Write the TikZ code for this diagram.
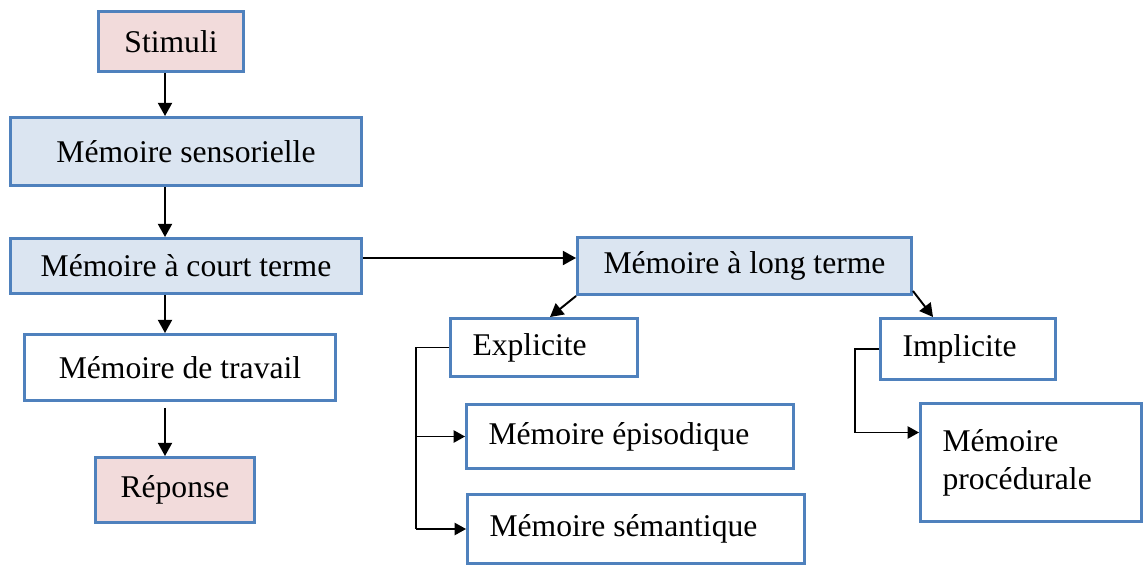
\documentclass[tikz,border=0pt]{standalone}
\usepackage{fontspec}
\setmainfont{Liberation Serif}
\usepackage{tikz}
\usetikzlibrary{arrows.meta}
\definecolor{boxline}{RGB}{79,129,189}
\definecolor{fillblue}{RGB}{219,229,241}
\definecolor{fillpink}{RGB}{242,219,219}
\tikzstyle{box}=[draw=boxline, line width=1.7pt, rectangle, inner sep=0pt, font=\fontsize{18}{21.5}\selectfont]
\tikzstyle{boxblue}=[box, fill=fillblue]
\tikzstyle{boxpink}=[box, fill=fillpink]
\tikzstyle{boxleft}=[box, fill=white, align=flush left, inner xsep=0.44cm]
\tikzstyle{arr}=[-{Triangle[length=7.5pt,width=8pt]}, line width=1.1pt]
\tikzstyle{arrthin}=[-{Triangle[length=6.5pt,width=7pt]}, line width=0.85pt]

\begin{document}
\begin{tikzpicture}[x=0.02cm, y=-0.02cm]
		   \useasboundingbox (0,0) rectangle (1146,565);
		   \begin{scope}
			   \node (stim) at (171, 41.5)[boxpink, minimum width=2.9cm, minimum height=1.2cm] {Stimuli};
			   \node (sens) at (186, 151.5)[boxblue, minimum width=7.02cm, minimum height=1.36cm] {Mémoire sensorielle};
			   \node (court) at (186, 266)[boxblue, minimum width=7.02cm, minimum height=1.1cm] {Mémoire à court terme};
			   \node (trav) at (180, 367.5)[box, fill=white, minimum width=6.22cm, minimum height=1.32cm] {Mémoire de travail};
			   \node (rep) at (175, 490)[boxpink, minimum width=3.18cm, minimum height=1.3cm] {Réponse};
			   \node (long) at (744.5, 266)[boxblue, minimum width=6.68cm, minimum height=1.14cm] {Mémoire à long terme};
			   \node (expl) at (544, 347.5)[boxleft, text width=2.86cm, minimum height=1.16cm] {Explicite};
			   \node (epis) at (630, 436.5)[boxleft, text width=5.66cm, minimum height=1.28cm] {Mémoire épisodique};
			   \node (sem) at (636, 529)[boxleft, text width=5.86cm, minimum height=1.38cm] {Mémoire sémantique};
			   \node (impl) at (968, 349)[boxleft, text width=2.62cm, minimum height=1.22cm] {Implicite};
			   \node (proc) at (1031, 462.5)[boxleft, text width=3.54cm, minimum height=2.36cm] {Mémoire\\procédurale};
			   \coordinate (axis) at (165, 0);
			   \coordinate (ebar) at (416, 0);
			   \coordinate (ibar) at (855, 0);
		   \end{scope}
		   \begin{scope}
			   \draw[arr] (stim.south -| axis) -- (sens.north -| axis);
			   \draw[arr] (sens.south -| axis) -- (court.north -| axis);
			   \draw[arr] (court.south -| axis) -- (trav.north -| axis);
			   \draw[arr, shorten <=0.12cm] (trav.south -| axis) -- (rep.north -| axis);
			   \draw[arr] ([yshift=0.16cm]court.east) -- ([yshift=0.16cm]long.west);
			   \draw[arr] (long.south west) -- ([xshift=0.12cm]expl.north);
			   \draw[arr] ([yshift=0.1cm]long.south east) -- ([xshift=-0.7cm]impl.north);
			   \draw[line width=0.85pt] (expl.west) -- (expl.west -| ebar) -- (ebar |- sem.west);
			   \draw[arrthin] (ebar |- epis.west) -- (epis.west);
			   \draw[arrthin] (ebar |- sem.west) -- (sem.west);
			   \draw[arrthin] (impl.west) -- (impl.west -| ibar) |- ([yshift=0.6cm]proc.west);
		   \end{scope}
	   \end{tikzpicture}
\end{document}
